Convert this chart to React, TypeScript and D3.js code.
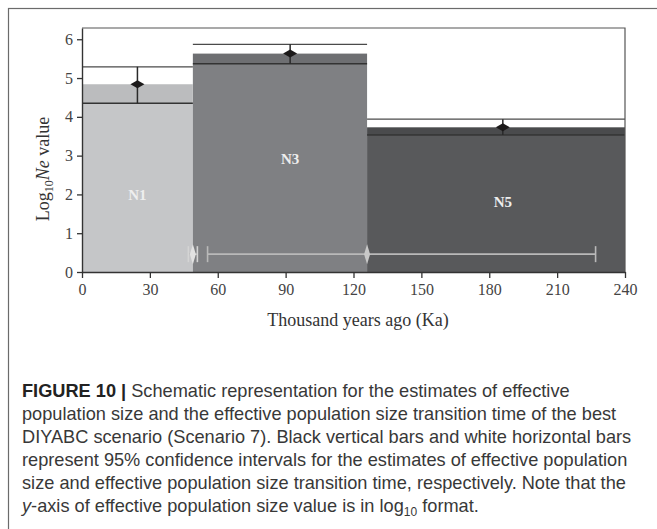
import React, {useEffect, useRef} from 'react'
import * as d3 from 'd3';

// population size phases (N1 recent, N5 oldest)
const popLabels = ['N1', 'N3', 'N5'];
const popStart = [0, 49, 126];
const popEnd = [49, 126, 240];
const neEstimate = [4.84, 5.63, 3.73];
const neLow = [4.35, 5.37, 3.53];
const neHigh = [5.29, 5.87, 3.94];
const estTime = [24.5, 92, 186];
const labelLevel = [1.98, 2.91, 1.81];

// transition times with 95% CI
const transEst = [49, 126];
const transLow = [47, 55.5];
const transHigh = [51, 227];
const transLevel = 0.46;

const xTicks = [0, 30, 60, 90, 120, 150, 180, 210, 240];
const yTicks = [0, 1, 2, 3, 4, 5, 6];

const barColors = ['#c5c6c8', '#7f8083', '#58595b'];
const bandColors = ['#bbbcbe', '#6e6f72', '#4a4b4d'];

const captionLines = [
    'Schematic representation for the estimates of effective',
    'population size and the effective population size transition time of the best',
    'DIYABC scenario (Scenario 7). Black vertical bars and white horizontal bars',
    'represent 95% confidence intervals for the estimates of effective population',
    'size and effective population size transition time, respectively. Note that the',
];

export default function App(){
    const svgRef = useRef(null);

    const margin = {top: 28, left: 82};
    const width = 543;
    const height = 244;

    useEffect(() => {
        const svg = d3.select(svgRef.current);
        svg.selectAll('*').remove();

        // outer figure frame
        svg.append('rect')
            .attr('x', 8.5).attr('y', 8.5)
            .attr('width', 700).attr('height', 600)
            .attr('fill', 'none')
            .attr('stroke', '#6b6b6b')
            .attr('stroke-width', 1.2);

        const x = d3.scaleLinear().domain([0, 240]).range([0, width]);
        const y = d3.scaleLinear().domain([0, 6.29]).range([height, 0]);

        const g = svg.append('g')
            .attr('transform', `translate(${margin.left},${margin.top})`);

        // main bars
        g.selectAll('rect.bar')
            .data(popLabels)
            .join('rect')
            .attr('class', 'bar')
            .attr('x', (d, i) => x(popStart[i]))
            .attr('y', (d, i) => y(neLow[i]))
            .attr('width', (d, i) => x(popEnd[i]) - x(popStart[i]))
            .attr('height', (d, i) => y(0) - y(neLow[i]))
            .attr('fill', (d, i) => barColors[i]);

        // band from lower CI to estimate
        g.selectAll('rect.band')
            .data(popLabels)
            .join('rect')
            .attr('class', 'band')
            .attr('x', (d, i) => x(popStart[i]))
            .attr('y', (d, i) => y(neEstimate[i]))
            .attr('width', (d, i) => x(popEnd[i]) - x(popStart[i]))
            .attr('height', (d, i) => y(neLow[i]) - y(neEstimate[i]))
            .attr('fill', (d, i) => bandColors[i]);

        // upper CI lines
        g.selectAll('line.hi')
            .data(popLabels)
            .join('line')
            .attr('class', 'hi')
            .attr('x1', (d, i) => x(popStart[i]))
            .attr('x2', (d, i) => x(popEnd[i]))
            .attr('y1', (d, i) => y(neHigh[i]))
            .attr('y2', (d, i) => y(neHigh[i]))
            .attr('stroke', '#4a4a4a')
            .attr('stroke-width', 1.2);

        // lower CI lines
        g.selectAll('line.lo')
            .data(popLabels)
            .join('line')
            .attr('class', 'lo')
            .attr('x1', (d, i) => x(popStart[i]))
            .attr('x2', (d, i) => x(popEnd[i]))
            .attr('y1', (d, i) => y(neLow[i]))
            .attr('y2', (d, i) => y(neLow[i]))
            .attr('stroke', '#333')
            .attr('stroke-width', 1.6);

        // vertical CI bars
        g.selectAll('line.ci')
            .data(popLabels)
            .join('line')
            .attr('class', 'ci')
            .attr('x1', (d, i) => x(estTime[i]))
            .attr('x2', (d, i) => x(estTime[i]))
            .attr('y1', (d, i) => y(neLow[i]))
            .attr('y2', (d, i) => y(neHigh[i]))
            .attr('stroke', '#2a2a2a')
            .attr('stroke-width', 1.5);

        // estimate diamonds
        g.selectAll('path.est')
            .data(popLabels)
            .join('path')
            .attr('class', 'est')
            .attr('d', (d, i) => {
                const cx = x(estTime[i]), cy = y(neEstimate[i]);
                return `M${cx - 7},${cy}L${cx},${cy - 4}L${cx + 7},${cy}L${cx},${cy + 4}Z`;
            })
            .attr('fill', '#1c1a1a');

        // phase labels
        g.selectAll('text.lab')
            .data(popLabels)
            .join('text')
            .attr('class', 'lab')
            .attr('x', (d, i) => x(estTime[i]))
            .attr('y', (d, i) => y(labelLevel[i]))
            .attr('dy', '0.35em')
            .attr('text-anchor', 'middle')
            .attr('font-family', '"Liberation Serif", serif')
            .attr('font-weight', 'bold')
            .attr('font-size', '15px')
            .attr('fill', '#eeeeee')
            .text(d => d);

        // transition time CIs
        const tg = g.append('g');
        tg.selectAll('line.tci')
            .data(transEst)
            .join('line')
            .attr('class', 'tci')
            .attr('x1', (d, i) => x(transLow[i]))
            .attr('x2', (d, i) => x(transHigh[i]))
            .attr('y1', y(transLevel))
            .attr('y2', y(transLevel))
            .attr('stroke', '#b9b9b9')
            .attr('stroke-width', 1.6);
        transEst.forEach((d, i) => {
            [transLow[i], transHigh[i]].forEach(v => {
                tg.append('line')
                    .attr('x1', x(v)).attr('x2', x(v))
                    .attr('y1', y(transLevel) - 8)
                    .attr('y2', y(transLevel) + 8)
                    .attr('stroke', i === 0 ? '#d4d4d4' : '#b9b9b9')
                    .attr('stroke-width', 1.6);
            });
        });
        tg.selectAll('path.tdia')
            .data(transEst)
            .join('path')
            .attr('class', 'tdia')
            .attr('d', d => {
                const cx = x(d), cy = y(transLevel);
                return `M${cx - 3},${cy}L${cx},${cy - 10}L${cx + 3},${cy}L${cx},${cy + 10}Z`;
            })
            .attr('fill', (d, i) => i === 0 ? '#e2e2e2' : '#c8c8c8');

        // plot frame (top and right)
        g.append('path')
            .attr('d', `M0,0H${width}V${height}`)
            .attr('fill', 'none')
            .attr('stroke', '#555')
            .attr('stroke-width', 1.2);

        const yaxis = d3.axisLeft(y).tickValues(yTicks).tickFormat(d3.format('d'))
            .tickSize(5).tickSizeOuter(0).tickPadding(4);
        const xaxis = d3.axisBottom(x).tickValues(xTicks).tickFormat(d3.format('d'))
            .tickSize(6).tickSizeOuter(0).tickPadding(6);

        g.append('g')
            .call(yaxis)
            .attr('font-size', '16px')
            .attr('font-family', '"Liberation Serif", serif')
            .attr('color', '#333');

        g.append('g')
            .attr('transform', `translate(0,${height})`)
            .call(xaxis)
            .attr('font-size', '16px')
            .attr('font-family', '"Liberation Serif", serif')
            .attr('color', '#333');

        g.selectAll('.domain').attr('stroke-width', 1.4);
        g.selectAll('.tick line').attr('stroke-width', 1.3);
        g.selectAll('.tick text').attr('fill', '#444');

        // axis titles
        svg.append('text')
            .attr('x', 358)
            .attr('y', 326)
            .attr('text-anchor', 'middle')
            .attr('font-family', '"Liberation Serif", serif')
            .attr('font-size', '18px')
            .attr('fill', '#333')
            .text('Thousand years ago (Ka)');

        const yl = svg.append('text')
            .attr('transform', 'translate(49,169) rotate(-90)')
            .attr('text-anchor', 'middle')
            .attr('font-family', '"Liberation Serif", serif')
            .attr('font-size', '18px')
            .attr('fill', '#333');
        yl.append('tspan').text('Log');
        yl.append('tspan').attr('font-size', '12px').attr('dy', 4).text('10');
        yl.append('tspan').attr('font-style', 'italic').attr('dy', -4).text('Ne');
        yl.append('tspan').text(' value');

        // caption
        const cap = svg.append('g')
            .attr('font-family', '"Liberation Sans Narrow", "Liberation Sans", sans-serif')
            .attr('font-size', '18.2px')
            .attr('fill', '#383838');
        const lineY = (i: number) => 397 + i * 23;
        const first = cap.append('text').attr('x', 22).attr('y', lineY(0));
        first.append('tspan').attr('font-weight', 'bold').attr('fill', '#222').text('FIGURE 10 | ');
        first.append('tspan').text(captionLines[0]);
        captionLines.slice(1).forEach((t, i) => {
            cap.append('text').attr('x', 22).attr('y', lineY(i + 1)).text(t);
        });
        const last = cap.append('text').attr('x', 22).attr('y', lineY(5));
        last.append('tspan').attr('font-style', 'italic').text('y');
        last.append('tspan').text('-axis of effective population size value is in log');
        last.append('tspan').attr('font-size', '12px').attr('dy', 4).text('10');
        last.append('tspan').attr('dy', -4).text(' format.');
    });

    return (
        <svg
            ref={svgRef}
            width={657}
            height={529}
            style={{position: 'fixed', left: 0, top: 0, background: '#fff'}}
        >
        </svg>
    );
}
